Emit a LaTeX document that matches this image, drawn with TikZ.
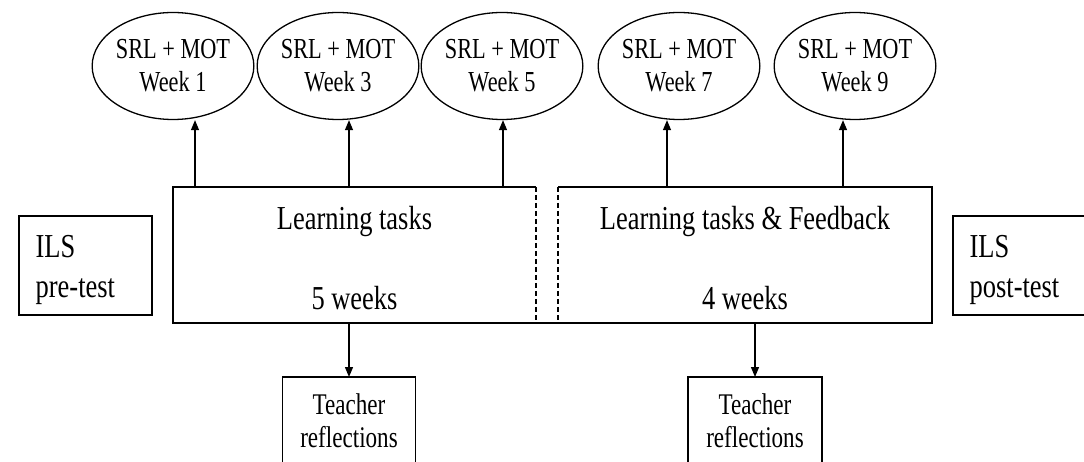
\documentclass[tikz,border=0pt]{standalone}
\usepackage{fontspec}
\setmainfont{Liberation Serif}
\newfontfamily\bigfont[FakeStretch=0.79]{Liberation Serif}
\newfontfamily\ellfont[FakeStretch=0.77]{Liberation Serif}
\usetikzlibrary{shapes.geometric,arrows.meta}
\begin{document}
\begin{tikzpicture}[x=1pt,y=-1pt,line width=1.3pt,
  ell/.style={draw,ellipse,minimum width=155pt,minimum height=107pt,inner sep=0pt,
    align=center,font=\ellfont\fontsize{29}{33}\selectfont},
  boxnode/.style={draw,rectangle,inner sep=0pt,outer sep=0pt},
  part/.style={rectangle,inner sep=0pt,outer sep=0pt,minimum height=136pt},
  arr/.style={-{Triangle[length=10pt,width=8pt]}},
  bigtxt/.style={inner sep=0pt,font=\bigfont\fontsize{33.5}{40}\selectfont},
  teachtxt/.style={inner sep=0pt,align=center,font=\ellfont\fontsize{30}{33}\selectfont},
  dsh/.style={dash pattern=on 5pt off 3pt}]
\useasboundingbox (0,0) rectangle (1084,462);
\clip (0,0) rectangle (1084,462);
% ellipses
\node[ell] (e1) at (173,66) {SRL + MOT\\Week 1};
\node[ell] (e2) at (338,66) {SRL + MOT\\Week 3};
\node[ell] (e3) at (502,66) {SRL + MOT\\Week 5};
\node[ell] (e4) at (679,66) {SRL + MOT\\Week 7};
\node[ell] (e5) at (855,66) {SRL + MOT\\Week 9};
% main boxes
\node[part,minimum width=363pt] (lt) at (354.5,255) {};
\node[part,minimum width=374pt] (rt) at (745,255) {};
\draw (lt.north east) -- (lt.north west) -- (lt.south west) -- (rt.south east) -- (rt.north east) -- (rt.north west);
\draw[dsh] (lt.north east) -- (lt.south east);
\draw[dsh] (rt.north west) -- (rt.south west);
\node[bigtxt,anchor=base] (lt1) at (354.5,230) {Learning tasks};
\node[bigtxt,anchor=base] (lt2) at (354.5,309) {5 weeks};
\node[bigtxt,anchor=base] (rt1) at (745,230) {Learning tasks \& Feedback};
\node[bigtxt,anchor=base] (rt2) at (745,309) {4 weeks};
% ILS boxes
\node[boxnode,minimum width=133pt,minimum height=99pt] (pre) at (85.5,265.5) {};
\node[bigtxt,align=left,anchor=west] (pretxt) at (35,270) {ILS\\pre-test};
\node[boxnode,minimum width=150pt,minimum height=99pt] (post) at (1028,265.5) {};
\node[bigtxt,align=left,anchor=west] (posttxt) at (969,270) {ILS\\post-test};
% teacher boxes
\node[boxnode,minimum width=133pt,minimum height=110pt] (t1) at (349,432) {};
\node[teachtxt] (t1txt) at (349,421) {Teacher\\reflections};
\node[boxnode,minimum width=134pt,minimum height=110pt] (t2) at (755,432) {};
\node[teachtxt] (t2txt) at (755,421) {Teacher\\reflections};
% arrow start points on the top edge
\coordinate (s1) at (195,187);
\coordinate (s2) at (349,187);
\coordinate (s3) at (503,187);
\coordinate (s4) at (667,187);
\coordinate (s5) at (843,187);
\draw[arr] (s1) -- (s1 |- e1.south);
\draw[arr] (s2) -- (s2 |- e2.south);
\draw[arr] (s3) -- (s3 |- e3.south);
\draw[arr] (s4) -- (s4 |- e4.south);
\draw[arr] (s5) -- (s5 |- e5.south);
% arrows down
\draw[arr] (t1.north |- lt.south) -- (t1.north);
\draw[arr] (t2.north |- rt.south) -- (t2.north);
\end{tikzpicture}
\end{document}
